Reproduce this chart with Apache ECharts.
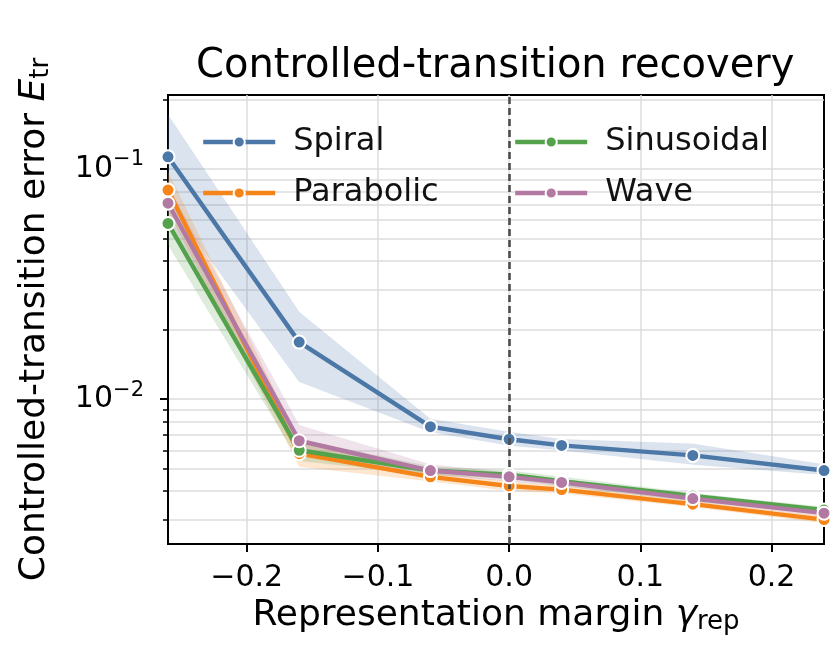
<!DOCTYPE html>
<html><head><meta charset="utf-8">
<script src="https://cdn.jsdelivr.net/npm/echarts@6/dist/echarts.min.js"></script>
<style>html,body{margin:0;padding:0;background:#fff}#c{width:840px;height:672px}</style>
</head><body><div id="c"></div>
<script>
const xVals = [-0.26, -0.16, -0.06, 0.0, 0.04, 0.14, 0.24];

const spiral   = [0.113, 0.0177, 0.0076, 0.0067, 0.0063, 0.0057, 0.0049];
const spiralLo = [0.072, 0.0119, 0.0072, 0.0063, 0.0060, 0.0052, 0.0047];
const spiralHi = [0.172, 0.0239, 0.0082, 0.0072, 0.0067, 0.0064, 0.0052];

const parabolic   = [0.081, 0.0058, 0.0046, 0.0042, 0.00405, 0.0035, 0.0030];
const parabolicLo = [0.066, 0.0051, 0.0044, 0.0040, 0.0039, 0.0034, 0.0029];
const parabolicHi = [0.097, 0.0066, 0.0048, 0.0044, 0.0042, 0.0036, 0.0031];

const sinusoidal   = [0.058, 0.0060, 0.0049, 0.0047, 0.0044, 0.0038, 0.0033];
const sinusoidalLo = [0.047, 0.0054, 0.0047, 0.0045, 0.0042, 0.0036, 0.0032];
const sinusoidalHi = [0.070, 0.0067, 0.0051, 0.0049, 0.0046, 0.0039, 0.0034];

const wave   = [0.071, 0.0066, 0.0049, 0.0046, 0.00435, 0.0037, 0.0032];
const waveLo = [0.060, 0.0058, 0.0047, 0.0044, 0.0042, 0.0036, 0.0031];
const waveHi = [0.084, 0.0077, 0.0052, 0.0048, 0.0045, 0.0038, 0.0033];

const xTicks = [-0.2, -0.1, 0.0, 0.1, 0.2];
const yMajorTicks = [0.01, 0.1];
const yMinorTicks = [0.003,0.004,0.005,0.006,0.007,0.008,0.009,0.02,0.03,0.04,0.05,0.06,0.07,0.08,0.09,0.2];
const yRange = [0.00235, 0.2096];
const xRange = [-0.26, 0.24];
const refLineX = 0;

const FONT = 'DejaVu Sans';
const groups = [
  {name:'Spiral', color:'#4c78a8', mean:spiral, lo:spiralLo, hi:spiralHi},
  {name:'Parabolic', color:'#f58518', mean:parabolic, lo:parabolicLo, hi:parabolicHi},
  {name:'Sinusoidal', color:'#54a24b', mean:sinusoidal, lo:sinusoidalLo, hi:sinusoidalHi},
  {name:'Wave', color:'#b279a2', mean:wave, lo:waveLo, hi:waveHi}
];

const series = [];
// vertical reference line at x = 0
series.push({
  type:'line', name:'ref', data:[[refLineX, yRange[0]]], z:2, silent:true,
  symbol:'none', lineStyle:{opacity:0}, legendHoverLink:false,
  markLine:{silent:true, symbol:'none', label:{show:false}, animation:false,
    lineStyle:{color:'#4d4d4d', width:2.6, type:[7,4], opacity:1},
    emphasis:{disabled:true},
    data:[{xAxis:refLineX}]}
});
groups.forEach(g=>{
  series.push({
    type:'custom', name:g.name+' band', z:2, silent:true,
    data:[[0]],
    renderItem:function(params, api){
      const pts=[];
      for(let i=0;i<xVals.length;i++) pts.push(api.coord([xVals[i], g.hi[i]]));
      for(let i=xVals.length-1;i>=0;i--) pts.push(api.coord([xVals[i], g.lo[i]]));
      return {type:'polygon', shape:{points:pts},
        style:{fill:g.color, opacity:0.2, stroke:g.color, lineWidth:1, strokeOpacity:0.25}};
    },
    clip:true
  });
});
groups.forEach((g,k)=>{
  series.push({
    type:'line', name:g.name, z:3+k,
    data:xVals.map((x,i)=>[x,g.mean[i]]),
    symbol:'circle', symbolSize:13, showSymbol:true,
    lineStyle:{color:g.color, width:4.4},
    itemStyle:{color:g.color, borderColor:'#fff', borderWidth:2},
    emphasis:{disabled:true}, animation:false
  });
});

const legendCommon = {
  orient:'vertical', itemWidth:72, itemHeight:14, itemGap:19,
  lineStyle:{width:4.4},
  textStyle:{fontFamily:FONT, fontSize:32, color:'#111', lineHeight:32, padding:[0,0,0,13]}
};

const chart = echarts.init(document.getElementById('c'), null, {renderer:'canvas'});
chart.setOption({
  animation:false,
  backgroundColor:'#fff',
  title:{text:'Controlled-transition recovery', left:191, top:42,
    textStyle:{fontFamily:FONT, fontSize:40, fontWeight:'normal', color:'#000'}},
  legend:[
    Object.assign({}, legendCommon, {left:196, top:121, data:['Spiral','Parabolic']}),
    Object.assign({}, legendCommon, {left:508, top:121, data:['Sinusoidal','Wave']})
  ],
  grid:{left:168, right:16, top:95, bottom:128, show:true, borderColor:'#000', borderWidth:2, backgroundColor:'transparent'},
  xAxis:{
    type:'value', min:xRange[0], max:xRange[1],
    name:'Representation margin {it|γ}{sub|rep}', nameLocation:'middle', nameGap:42,
    nameTextStyle:{fontFamily:FONT, fontSize:36, color:'#000',
      rich:{it:{fontFamily:FONT, fontSize:36, fontStyle:'italic'}, sub:{fontFamily:FONT, fontSize:26, padding:[12,0,0,0]}}},
    axisLine:{show:true, onZero:false, lineStyle:{color:'#000', width:2}},
    axisTick:{show:true, length:8, inside:false, customValues:xTicks, lineStyle:{color:'#000', width:2}},
    axisLabel:{customValues:xTicks, margin:19, fontFamily:FONT, fontSize:30, color:'#000',
      formatter:v=>(v<0?'\u2212':'')+Math.abs(v).toFixed(1)},
    splitLine:{show:true, lineStyle:{color:'#dcdcdc', width:1.5}}
  },
  yAxis:[{
    type:'log', logBase:10, min:yRange[0], max:yRange[1],
    name:'Controlled-transition error {it|E}{sub|tr}', nameLocation:'middle', nameGap:114, nameRotate:90,
    nameTextStyle:{fontFamily:FONT, fontSize:36, color:'#000',
      rich:{it:{fontFamily:FONT, fontSize:36, fontStyle:'italic'}, sub:{fontFamily:FONT, fontSize:26, padding:[12,0,0,0]}}},
    axisLine:{show:true, onZero:false, lineStyle:{color:'#000', width:2}},
    axisTick:{show:true, length:5, customValues:yMajorTicks.concat(yMinorTicks), lineStyle:{color:'#000', width:1.5}},
    axisLabel:{customValues:yMajorTicks, margin:24, fontFamily:FONT, fontSize:30, color:'#000',
      formatter:v=>'10{sup|\u2212'+Math.round(-Math.log10(v))+'}',
      rich:{sup:{fontFamily:FONT, fontSize:21, padding:[0,0,18,0]}}},
    splitLine:{show:true, lineStyle:{color:'#dcdcdc', width:1.5}}
  },{
    type:'log', logBase:10, min:yRange[0], max:yRange[1], position:'left',
    axisLine:{show:false, onZero:false},
    axisTick:{show:true, length:8, customValues:yMajorTicks, lineStyle:{color:'#000', width:2}},
    axisLabel:{show:false}, splitLine:{show:false}
  }],
  series:series
});
</script></body></html>
